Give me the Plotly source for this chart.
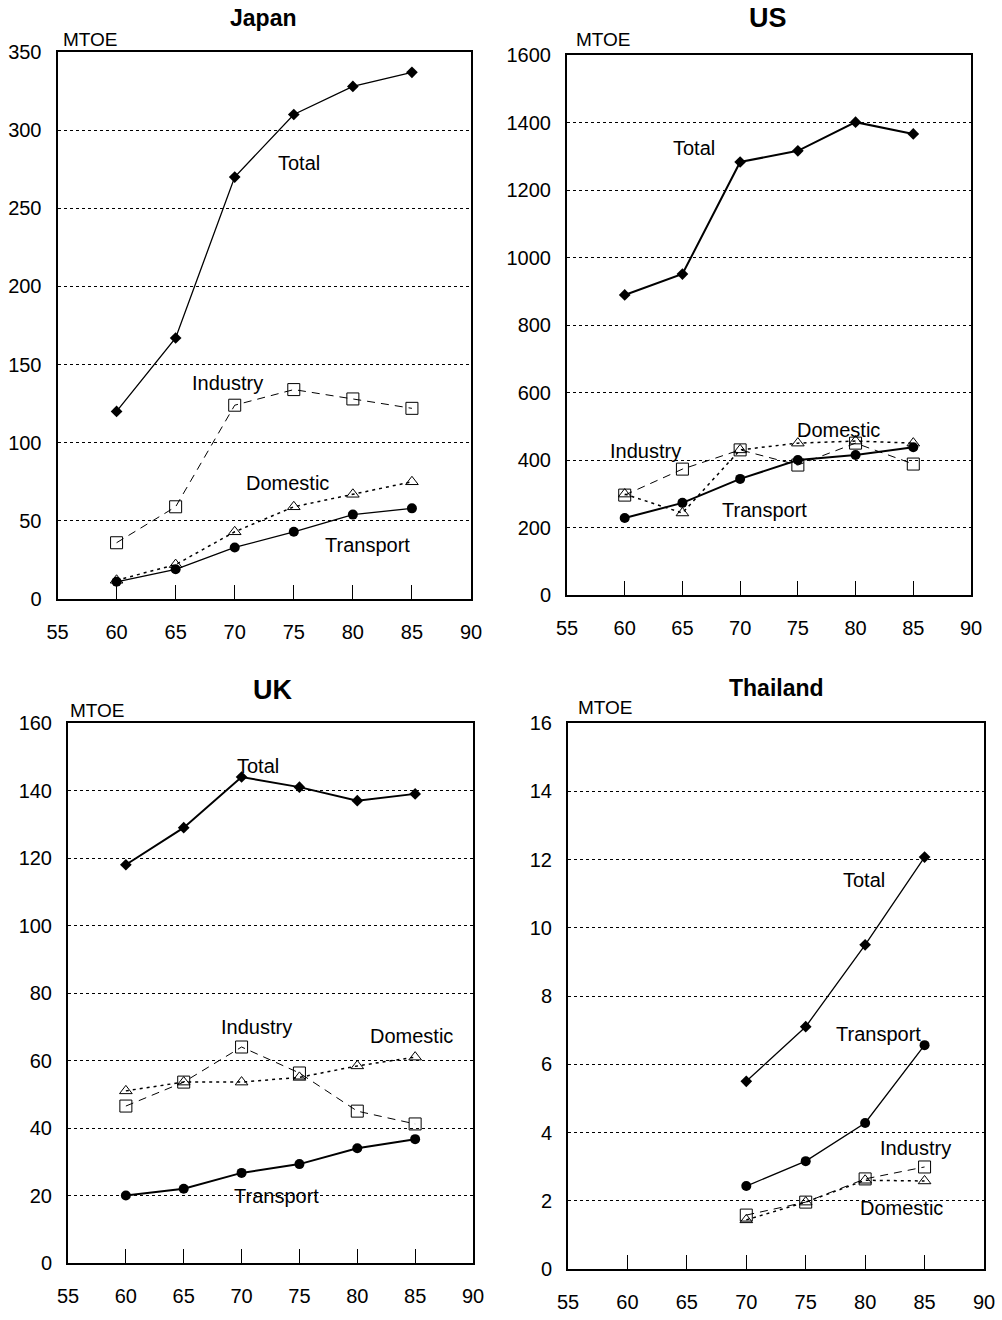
import plotly.graph_objects as go

years = [60, 65, 70, 75, 80, 85]
years_th = [70, 75, 80, 85]
x_ticks = [55, 60, 65, 70, 75, 80, 85, 90]

japan_total = [120, 167, 270, 310, 328, 337]
japan_industry = [36, 59, 124, 134, 128, 122]
japan_domestic = [12, 22, 43, 59, 67, 75]
japan_transport = [11, 19, 33, 43, 54, 58]

us_total = [889, 951, 1283, 1316, 1401, 1366]
us_industry = [296, 373, 430, 385, 450, 388]
us_domestic = [299, 243, 430, 450, 456, 450]
us_transport = [228, 273, 344, 400, 415, 438]

uk_total = [118, 129, 144, 141, 137, 139]
uk_industry = [46.5, 53.6, 64, 56.3, 45, 41.2]
uk_domestic = [51, 53.6, 53.6, 55, 58.4, 61]
uk_transport = [20, 22, 26.7, 29.3, 34, 36.7]

th_total = [5.5, 7.1, 9.5, 12.07]
th_industry = [1.58, 1.96, 2.64, 2.99]
th_domestic = [1.44, 1.96, 2.6, 2.58]
th_transport = [2.43, 3.16, 4.28, 6.56]

panels = [
    dict(name="Japan", x=years, total=japan_total, ind=japan_industry, dom=japan_domestic, tra=japan_transport,
         ymax=350, dtick=50, xd=[57.5, 471], yd=[599, 52], tw=1.3,
         title=(263, 18, 23), mtoe=(90, 40),
         labels=[("Total", 75.4, 279), ("Industry", 69.4, 138), ("Domestic", 74.5, 74), ("Transport", 81.2, 34.5)]),
    dict(name="US", x=years, total=us_total, ind=us_industry, dom=us_domestic, tra=us_transport,
         ymax=1600, dtick=200, xd=[567, 971], yd=[595, 55], tw=2,
         title=(768, 18, 27), mtoe=(603, 40),
         labels=[("Total", 66.0, 1324), ("Domestic", 78.5, 489), ("Industry", 61.8, 427), ("Transport", 72.15, 252)]),
    dict(name="UK", x=years, total=uk_total, ind=uk_industry, dom=uk_domestic, tra=uk_transport,
         ymax=160, dtick=20, xd=[68, 473], yd=[1263, 723], tw=2,
         title=(272, 690, 27), mtoe=(97, 710),
         labels=[("Total", 71.4, 147.3), ("Industry", 71.25, 69.9), ("Domestic", 84.7, 67.3), ("Transport", 73.06, 19.9)]),
    dict(name="Thailand", x=years_th, total=th_total, ind=th_industry, dom=th_domestic, tra=th_transport,
         ymax=16, dtick=2, xd=[568, 984], yd=[1269, 723], tw=1.3,
         title=(776, 688, 23), mtoe=(605, 707),
         labels=[("Total", 79.9, 11.4), ("Transport", 81.1, 6.89), ("Industry", 84.2, 3.55), ("Domestic", 83.1, 1.79)]),
]

W, H = 1002, 1320
fig = go.Figure()
font = "Liberation Sans, Arial, sans-serif"

for i, p in enumerate(panels):
    n = "" if i == 0 else str(i + 1)
    xa, ya = "x" + n, "y" + n
    # Industry
    fig.add_trace(go.Scatter(x=p["x"], y=p["ind"], xaxis=xa, yaxis=ya, mode="lines+markers",
                             line=dict(color="black", width=1, dash="8px,6px"),
                             marker=dict(symbol="square-open", size=12, color="black", line=dict(width=1))))
    # Domestic
    fig.add_trace(go.Scatter(x=p["x"], y=p["dom"], xaxis=xa, yaxis=ya, mode="lines+markers",
                             line=dict(color="black", width=1.5, dash="3px,4px"),
                             marker=dict(symbol="triangle-up-open", size=11, color="black", line=dict(width=1))))
    # Transport
    fig.add_trace(go.Scatter(x=p["x"], y=p["tra"], xaxis=xa, yaxis=ya, mode="lines+markers",
                             line=dict(color="black", width=p["tw"]),
                             marker=dict(symbol="circle", size=10, color="black")))
    # Total
    fig.add_trace(go.Scatter(x=p["x"], y=p["total"], xaxis=xa, yaxis=ya, mode="lines+markers",
                             line=dict(color="black", width=p["tw"]),
                             marker=dict(symbol="diamond", size=9, color="black")))

    yt = list(range(0, p["ymax"] + 1, p["dtick"]))
    fig.layout["xaxis" + n] = dict(
        domain=[p["xd"][0] / W, p["xd"][1] / W], range=[55, 90], anchor=ya, automargin=False,
        tickvals=x_ticks, ticks="inside", ticklen=14, tickwidth=1, tickcolor="black",
        ticklabelstandoff=14,
        showline=True, mirror=True, linecolor="black", linewidth=2,
        showgrid=False, zeroline=False,
        tickfont=dict(family=font, size=20, color="black"))
    fig.layout["yaxis" + n] = dict(
        domain=[1 - p["yd"][0] / H, 1 - p["yd"][1] / H], range=[0, p["ymax"]], anchor=xa, automargin=False,
        tickvals=yt, ticks="", ticklabelstandoff=10,
        showline=True, mirror=True, linecolor="black", linewidth=2,
        showgrid=True, gridcolor="black", griddash="dot", gridwidth=1,
        zeroline=False,
        tickfont=dict(family=font, size=20, color="black"))

    tx, ty, ts = p["title"]
    fig.add_annotation(text="<b>%s</b>" % p["name"], x=tx / W, y=1 - ty / H, xref="paper", yref="paper",
                       showarrow=False, xanchor="center", yanchor="middle",
                       font=dict(family=font, size=ts, color="black"))
    mx, my = p["mtoe"]
    fig.add_annotation(text="MTOE", x=mx / W, y=1 - my / H, xref="paper", yref="paper",
                       showarrow=False, xanchor="center", yanchor="middle",
                       font=dict(family=font, size=19, color="black"))
    for txt, lx, ly in p["labels"]:
        fig.add_annotation(text=txt, x=lx, y=ly, xref=xa, yref=ya, showarrow=False,
                           xanchor="center", yanchor="middle",
                           font=dict(family=font, size=20, color="black"))

fig.update_layout(width=W, height=H, margin=dict(l=0, r=0, t=0, b=0),
                  paper_bgcolor="white", plot_bgcolor="white", showlegend=False)

fig.write_html("out.html", config={"displayModeBar": False},
               post_script="document.body.style.margin='0';document.body.style.overflow='hidden';")
